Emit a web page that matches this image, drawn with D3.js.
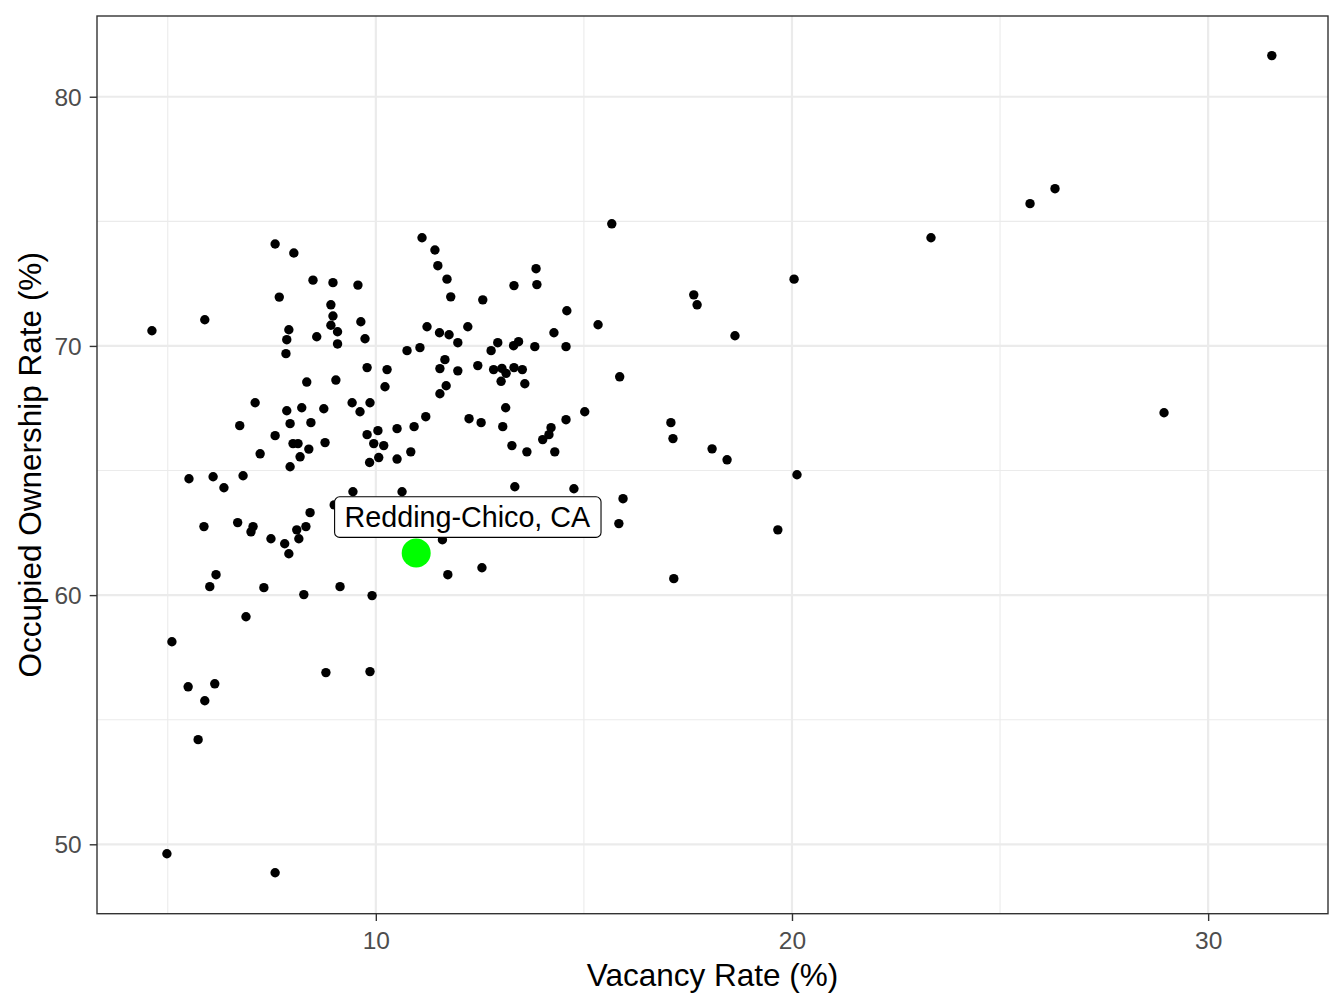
<!DOCTYPE html>
<html><head><meta charset="utf-8">
<script src="https://cdn.jsdelivr.net/npm/d3@7"></script>
<style>body{margin:0;background:#fff}svg{display:block}</style>
</head><body>
<svg id="chart" width="1344" height="1008"></svg>
<script>
// ---- data ----
const vacancyRate = [
7.58,8.03,8.49,8.97,9.57,7.68,8.92,8.97,5.89,4.62,
7.91,8.92,9.08,9.64,8.58,7.86,9.74,9.08,7.84,9.79,
10.27,8.34,9.04,10.22,7.10,9.43,9.86,7.86,8.22,8.75,
9.62,6.73,7.94,8.44,10.05,9.79,7.58,8.01,8.13,8.78,
9.95,10.19,8.39,7.22,8.18,10.07,9.85,
15.67,11.11,11.42,11.49,11.71,13.85,13.32,13.87,11.80,12.57,
14.59,15.34,11.23,12.21,14.28,11.53,11.76,11.97,12.93,13.43,
13.31,13.82,14.57,10.75,11.06,12.77,11.66,11.54,11.97,12.45,
12.83,13.03,13.13,13.01,13.32,13.52,13.58,15.86,11.69,11.54,
13.12,15.02,11.20,12.24,12.53,13.05,14.57,14.21,14.16,14.01,
10.92,10.51,13.27,13.63,14.30,10.84,10.51,
5.51,6.09,6.35,6.81,7.94,9.45,9.00,8.42,5.87,6.68,
7.05,7.00,7.48,7.81,7.91,8.10,8.32,8.15,6.16,6.01,
7.31,8.27,9.14,9.91,6.88,5.10,8.80,9.86,5.49,6.13,
10.63,13.34,14.76,15.94,15.84,11.60,11.73,12.55,
20.05,17.64,17.72,18.63,17.09,17.14,18.08,18.44,20.12,19.66,17.16,
5.89,5.73,4.98,7.58,
31.53,26.32,25.72,23.34,28.94
];
const ownershipRate = [
74.09,73.73,72.64,72.54,72.44,71.96,71.65,71.20,71.05,70.61,
70.65,70.83,70.57,70.97,70.37,70.25,70.29,70.08,69.69,69.13,
69.05,68.55,68.63,68.36,67.72,67.72,67.72,67.40,67.52,67.48,
67.36,66.80,66.88,66.92,66.60,66.44,66.40,66.08,66.08,66.12,
66.08,66.00,65.86,65.67,65.55,65.52,65.32,
74.90,74.34,73.85,73.22,72.68,73.10,72.42,72.46,71.97,71.85,
71.41,70.85,70.77,70.77,70.53,70.53,70.45,70.13,70.13,70.17,
70.01,69.97,69.97,69.81,69.93,69.81,69.45,69.09,69.00,69.21,
69.05,69.10,68.90,68.58,69.13,69.05,68.48,68.76,68.40,68.08,
67.52,67.36,67.16,67.08,66.92,66.76,67.04,66.72,66.44,66.24,
66.76,66.68,66.00,65.75,65.75,65.75,65.46,
64.67,64.75,64.31,64.79,65.15,64.15,63.62,63.31,62.75,62.91,
62.75,62.54,62.26,62.06,61.66,62.62,62.75,62.26,60.82,60.34,
60.30,60.02,60.34,59.98,59.13,58.13,56.89,56.93,56.32,56.44,
64.15,64.35,64.27,63.87,62.87,62.22,60.82,61.10,
72.68,72.05,71.65,70.41,66.92,66.28,65.87,65.43,64.83,62.62,60.66,
55.76,54.20,49.62,48.86,
81.65,76.31,75.71,74.34,67.32
];
const highlightName = "Redding-Chico, CA";
const highlightVacancy = 10.97;
const highlightOwnership = 61.69;
const labelVacancy = 12.20;
const labelOwnership = 63.13;
const xMajorTicks = [10, 20, 30];
const xMinorTicks = [5, 15, 25];
const yMajorTicks = [50, 60, 70, 80];
const yMinorTicks = [55, 65, 75];
const xTitle = "Vacancy Rate (%)";
const yTitle = "Occupied Ownership Rate (%)";

// ---- layout ----
const FONT = "'Liberation Sans', Arial, Helvetica, sans-serif";
const panel = {left: 97, right: 1328, top: 16, bottom: 913.7};
const svg = d3.select("#chart").style("font-family", FONT);

const x = d3.scaleLinear().domain([3.3, 32.88]).range([panel.left, panel.right]);
const y = d3.scaleLinear().domain([47.215, 83.24]).range([panel.bottom, panel.top]);

const points = vacancyRate.map((v, i) => ({v, o: ownershipRate[i]}));

// background
svg.append("rect").attr("x", panel.left).attr("y", panel.top)
  .attr("width", panel.right - panel.left).attr("height", panel.bottom - panel.top)
  .attr("fill", "#fff");

const grid = svg.append("g");
grid.selectAll(".xmin").data(xMinorTicks).join("line")
  .attr("x1", d => x(d)).attr("x2", d => x(d)).attr("y1", panel.top).attr("y2", panel.bottom)
  .attr("stroke", "#EBEBEB").attr("stroke-width", 1.1);
grid.selectAll(".ymin").data(yMinorTicks).join("line")
  .attr("y1", d => y(d)).attr("y2", d => y(d)).attr("x1", panel.left).attr("x2", panel.right)
  .attr("stroke", "#EBEBEB").attr("stroke-width", 1.1);
grid.selectAll(".xmaj").data(xMajorTicks).join("line")
  .attr("x1", d => x(d)).attr("x2", d => x(d)).attr("y1", panel.top).attr("y2", panel.bottom)
  .attr("stroke", "#EBEBEB").attr("stroke-width", 2.2);
grid.selectAll(".ymaj").data(yMajorTicks).join("line")
  .attr("y1", d => y(d)).attr("y2", d => y(d)).attr("x1", panel.left).attr("x2", panel.right)
  .attr("stroke", "#EBEBEB").attr("stroke-width", 2.2);

// points
svg.append("g").selectAll("circle").data(points).join("circle")
  .attr("cx", d => x(d.v)).attr("cy", d => y(d.o)).attr("r", 4.7).attr("fill", "#000");

// highlight
svg.append("circle").attr("cx", x(highlightVacancy)).attr("cy", y(highlightOwnership))
  .attr("r", 14.5).attr("fill", "#00FF00");

// label
const lab = svg.append("g");
const labText = lab.append("text").attr("x", x(labelVacancy)).attr("y", y(labelOwnership))
  .attr("text-anchor", "middle").attr("dy", "0.35em")
  .attr("font-size", 28.7).attr("fill", "#000").text(highlightName);
const bb = labText.node().getBBox();
lab.insert("rect", "text")
  .attr("x", bb.x - 10).attr("y", y(labelOwnership) - 20.3)
  .attr("width", bb.width + 20).attr("height", 40.6)
  .attr("rx", 5).attr("ry", 5)
  .attr("fill", "#fff").attr("stroke", "#000").attr("stroke-width", 1.1);

// panel border
svg.append("rect").attr("x", panel.left).attr("y", panel.top)
  .attr("width", panel.right - panel.left).attr("height", panel.bottom - panel.top)
  .attr("fill", "none").attr("stroke", "#333333").attr("stroke-width", 1.4);

// axes
const xAxis = d3.axisBottom(x).tickValues(xMajorTicks).tickSizeInner(7.3).tickSizeOuter(0).tickPadding(11);
const gx = svg.append("g").attr("transform", `translate(0,${panel.bottom})`).call(xAxis);
gx.select(".domain").remove();
gx.selectAll(".tick line").attr("stroke", "#333333").attr("stroke-width", 1.4);
gx.selectAll(".tick text").attr("font-size", 24.5).attr("fill", "#4D4D4D")
  .attr("font-family", FONT).attr("dy", "0.71em");

const yAxis = d3.axisLeft(y).tickValues(yMajorTicks).tickSizeInner(7.3).tickSizeOuter(0).tickPadding(8);
const gy = svg.append("g").attr("transform", `translate(${panel.left},0)`).call(yAxis);
gy.select(".domain").remove();
gy.selectAll(".tick line").attr("stroke", "#333333").attr("stroke-width", 1.4);
gy.selectAll(".tick text").attr("font-size", 24.5).attr("fill", "#4D4D4D")
  .attr("font-family", FONT).attr("dy", "0.35em");

// titles
svg.append("text").attr("x", (panel.left + panel.right) / 2).attr("y", 986)
  .attr("text-anchor", "middle").attr("font-size", 31.5).attr("fill", "#000").text(xTitle);
svg.append("text")
  .attr("transform", `translate(41,${(panel.top + panel.bottom) / 2}) rotate(-90)`)
  .attr("text-anchor", "middle").attr("font-size", 31.5).attr("fill", "#000").text(yTitle);
</script>
</body></html>
